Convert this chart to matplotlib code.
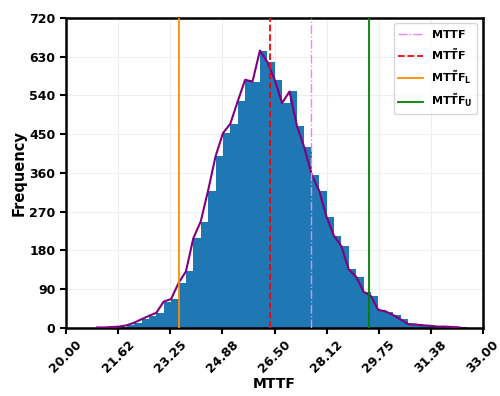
import numpy as np
import matplotlib
matplotlib.use('Agg')
import matplotlib.pyplot as plt

# Histogram of simulated MTTF values (counts)
bin_edges = np.linspace(20.97, 32.505, 51)
counts = [1, 1, 2, 3, 6, 12, 20, 28, 35, 61,
          67, 104, 131, 208, 247, 319, 398, 452, 474, 526,
          576, 572, 644, 618, 576, 522, 549, 469, 419, 355,
          319, 258, 214, 190, 136, 119, 84, 74, 42, 38,
          30, 20, 9, 8, 6, 5, 3, 3, 2, 1]

# Reference lines
mttf_mean = 27.64
mttf_median = 26.36
mttf_lower = 23.52
mttf_upper = 29.445

xtick_vals = [20.00, 21.625, 23.25, 24.875, 26.50, 28.125, 29.75, 31.375, 33.00]
xtick_labels = ['20.00', '21.62', '23.25', '24.88', '26.50', '28.12', '29.75', '31.38', '33.00']
ytick_vals = [0, 90, 180, 270, 360, 450, 540, 630, 720]

fig = plt.figure(figsize=(5, 3.96), dpi=100)
ax = fig.add_axes([0.132, 0.172, 0.834, 0.783])

n, bins, _ = ax.hist(bin_edges[:-1], bins=bin_edges, weights=counts, color='#1f77b4', zorder=2)
# frequency polygon drawn through the left bin edges
ax.plot(bins[:-1], n, color='purple', linewidth=1.5, zorder=3)

ax.axvline(mttf_mean, color='violet', linestyle='-.', linewidth=1, label=r'$\mathbf{MTTF}$', zorder=4)
ax.axvline(mttf_median, color='red', linestyle='--', linewidth=1.3, label=r'$\mathbf{MT\tilde{T}F}$', zorder=4)
ax.axvline(mttf_lower, color='darkorange', linestyle='-', linewidth=1.3, label=r'$\mathbf{MT\tilde{T}F_L}$', zorder=4)
ax.axvline(mttf_upper, color='green', linestyle='-', linewidth=1.3, label=r'$\mathbf{MT\tilde{T}F_U}$', zorder=4)

ax.set_xlim(20, 33)
ax.set_ylim(0, 720)
ax.set_xticks(xtick_vals)
ax.set_xticklabels(xtick_labels, rotation=45, fontsize=9, fontweight='bold')
ax.set_yticks(ytick_vals)
ax.set_yticklabels([str(v) for v in ytick_vals], fontsize=9, fontweight='bold')
ax.set_xlabel('MTTF', fontsize=10, fontweight='bold', labelpad=1)
ax.set_ylabel('Frequency', fontsize=10.5, fontweight='bold', labelpad=2)
ax.grid(True, color='#eeeeee', linewidth=0.8, zorder=0)
ax.set_axisbelow(True)

for spine in ax.spines.values():
    spine.set_linewidth(1.8)
    spine.set_color('black')
ax.tick_params(width=1.5, length=4)

leg = ax.legend(loc='upper right', fontsize=8, frameon=True, handlelength=2.2, labelspacing=0.6)
leg.get_frame().set_edgecolor('#cccccc')

plt.savefig('out.png', dpi=100)
